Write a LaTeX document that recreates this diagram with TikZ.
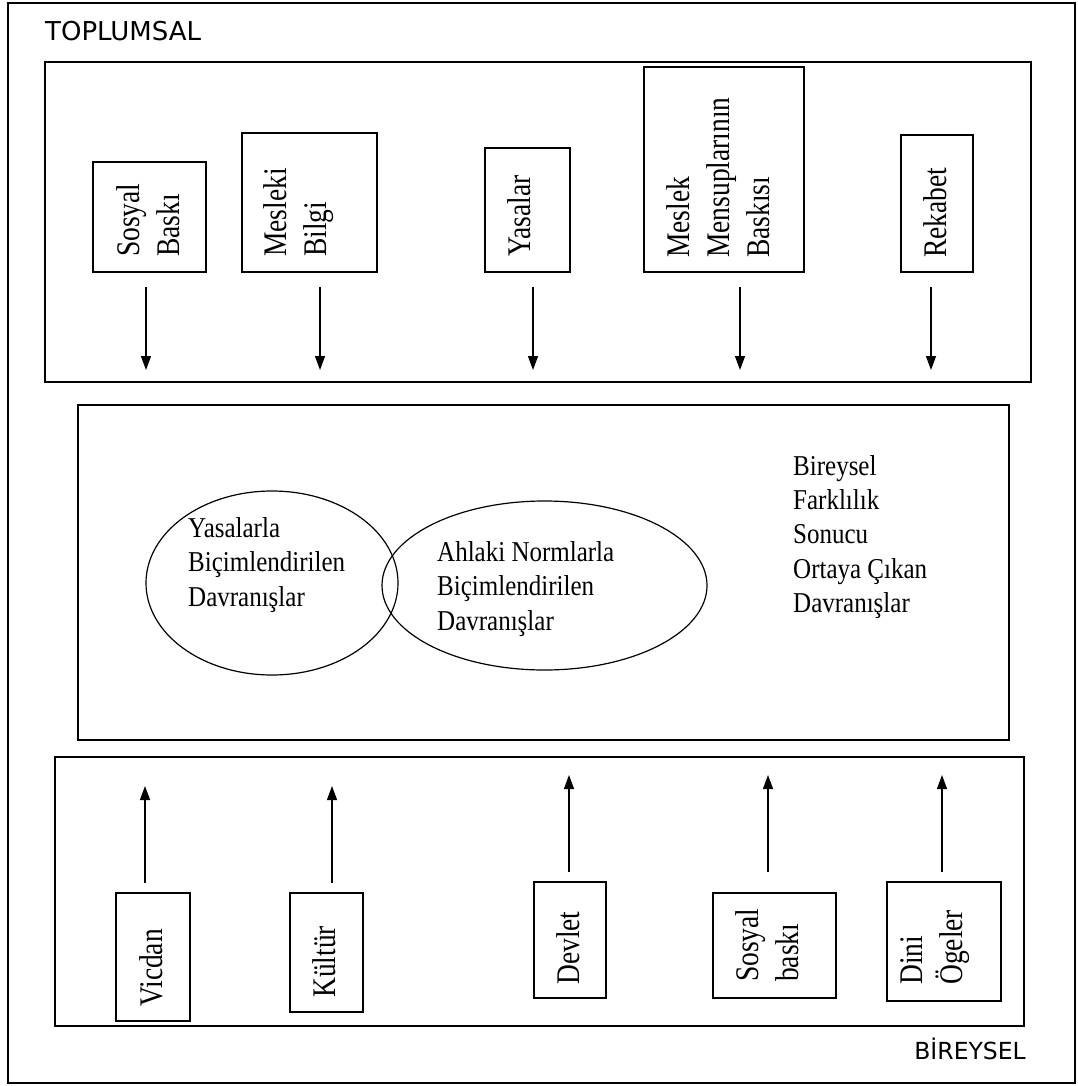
\documentclass[tikz,border=0pt]{standalone}
\usepackage{fontspec}
\setmainfont{Liberation Serif}
\newfontfamily\headfont{DejaVu Sans}
\usetikzlibrary{arrows.meta,shapes.geometric}

\begin{document}
\begin{tikzpicture}[x=1pt, y=-1pt,
        every node/.style={inner sep=0pt},
        frame/.style={line width=1.4pt},
        box/.style={draw, rectangle, line width=1.4pt},
        oval/.style={draw, ellipse, line width=1.2pt},
        vtext/.style={rotate=90, yscale=1.2, anchor=west, align=left, font=\fontsize{27.5}{33.3}\selectfont},
        htext/.style={yscale=1.15, anchor=west, align=left, font=\fontsize{25}{29.8}\selectfont},
        arr/.style={-{Triangle[length=14pt,width=10pt]}, line width=1.3pt}]
                \useasboundingbox (0,0) rectangle (1077,1086);
                \draw[line width=1.2pt] (8,3) rectangle (1075,1083);
                \node[anchor=west, font=\headfont\fontsize{26}{30}\selectfont] (top) at (45,31) {TOPLUMSAL};
                \node[anchor=east, font=\headfont\fontsize{23.5}{28}\selectfont] (bot) at (1026,1049) {BİREYSEL};

                % frames
                \draw[frame] (45,62) rectangle (1031,382);
                \draw[frame] (78,405) rectangle (1009,740);
                \draw[frame] (55,757) rectangle (1024,1026);

                % top boxes
                \node[box, minimum width=113pt, minimum height=110pt] (A) at (149.5,217) {};
                \node[box, minimum width=135pt, minimum height=139pt] (B) at (309.5,202.5) {};
                \node[box, minimum width=85pt, minimum height=124pt] (C) at (527.5,210) {};
                \node[box, minimum width=160pt, minimum height=205pt] (D) at (724,169.5) {};
                \node[box, minimum width=72pt, minimum height=137pt] (E) at (937,203.5) {};
                \node[vtext] (a) at (148,257) {Sosyal\\Baskı};
                \node[vtext] (b) at (299,257) {Mesleki\\Bilgi};
                \node[vtext] (c) at (519,257) {Yasalar};
                \node[vtext] (d) at (718,258) {Meslek\\Mensuplarının\\Baskısı};
                \node[vtext] (e) at (935,258) {Rekabet};

                \coordinate (a1) at (146,287);
                \coordinate (a2) at (146,370);
                \coordinate (b1) at (320,287);
                \coordinate (b2) at (320,370);
                \coordinate (c1) at (533,287);
                \coordinate (c2) at (533,370);
                \coordinate (d1) at (740,287);
                \coordinate (d2) at (740,370);
                \coordinate (e1) at (931,287);
                \coordinate (e2) at (931,370);
                \draw[arr] (a1) -- (a2);
                \draw[arr] (b1) -- (b2);
                \draw[arr] (c1) -- (c2);
                \draw[arr] (d1) -- (d2);
                \draw[arr] (e1) -- (e2);

                % middle
                \node[oval, minimum width=252pt, minimum height=184pt] (L) at (272,583) {};
                \node[oval, minimum width=325pt, minimum height=169pt] (R) at (544.5,585.5) {};
                \node[htext] (l) at (188,565) {Yasalarla\\Biçimlendirilen\\Davranışlar};
                \node[htext] (r) at (437,589) {Ahlaki Normlarla\\Biçimlendirilen\\Davranışlar};
                \node[htext] (k) at (793,537) {Bireysel\\Farklılık\\Sonucu\\Ortaya Çıkan\\Davranışlar};

                % bottom boxes
                \node[box, minimum width=74pt, minimum height=128pt] (F) at (153,957) {};
                \node[box, minimum width=73pt, minimum height=119pt] (G) at (326.5,952.5) {};
                \node[box, minimum width=72pt, minimum height=116pt] (H) at (570,940) {};
                \node[box, minimum width=123pt, minimum height=105pt] (I) at (774.5,945.5) {};
                \node[box, minimum width=114pt, minimum height=119pt] (J) at (944,941.5) {};
                \node[vtext] (f) at (151,1007) {Vicdan};
                \node[vtext] (g) at (324,998) {Kültür};
                \node[vtext] (h) at (568,985) {Devlet};
                \node[vtext] (i) at (767,982) {Sosyal\\baskı};
                \node[vtext] (j) at (935,985) {Dini\\Ögeler};

                \coordinate (f1) at (145,883);
                \coordinate (f2) at (145,786);
                \coordinate (g1) at (332,883);
                \coordinate (g2) at (332,786);
                \coordinate (h1) at (569,872);
                \coordinate (h2) at (569,775);
                \coordinate (i1) at (768,872);
                \coordinate (i2) at (768,775);
                \coordinate (j1) at (942,872);
                \coordinate (j2) at (942,775);
                \draw[arr] (f1) -- (f2);
                \draw[arr] (g1) -- (g2);
                \draw[arr] (h1) -- (h2);
                \draw[arr] (i1) -- (i2);
                \draw[arr] (j1) -- (j2);
            \end{tikzpicture}
\end{document}
